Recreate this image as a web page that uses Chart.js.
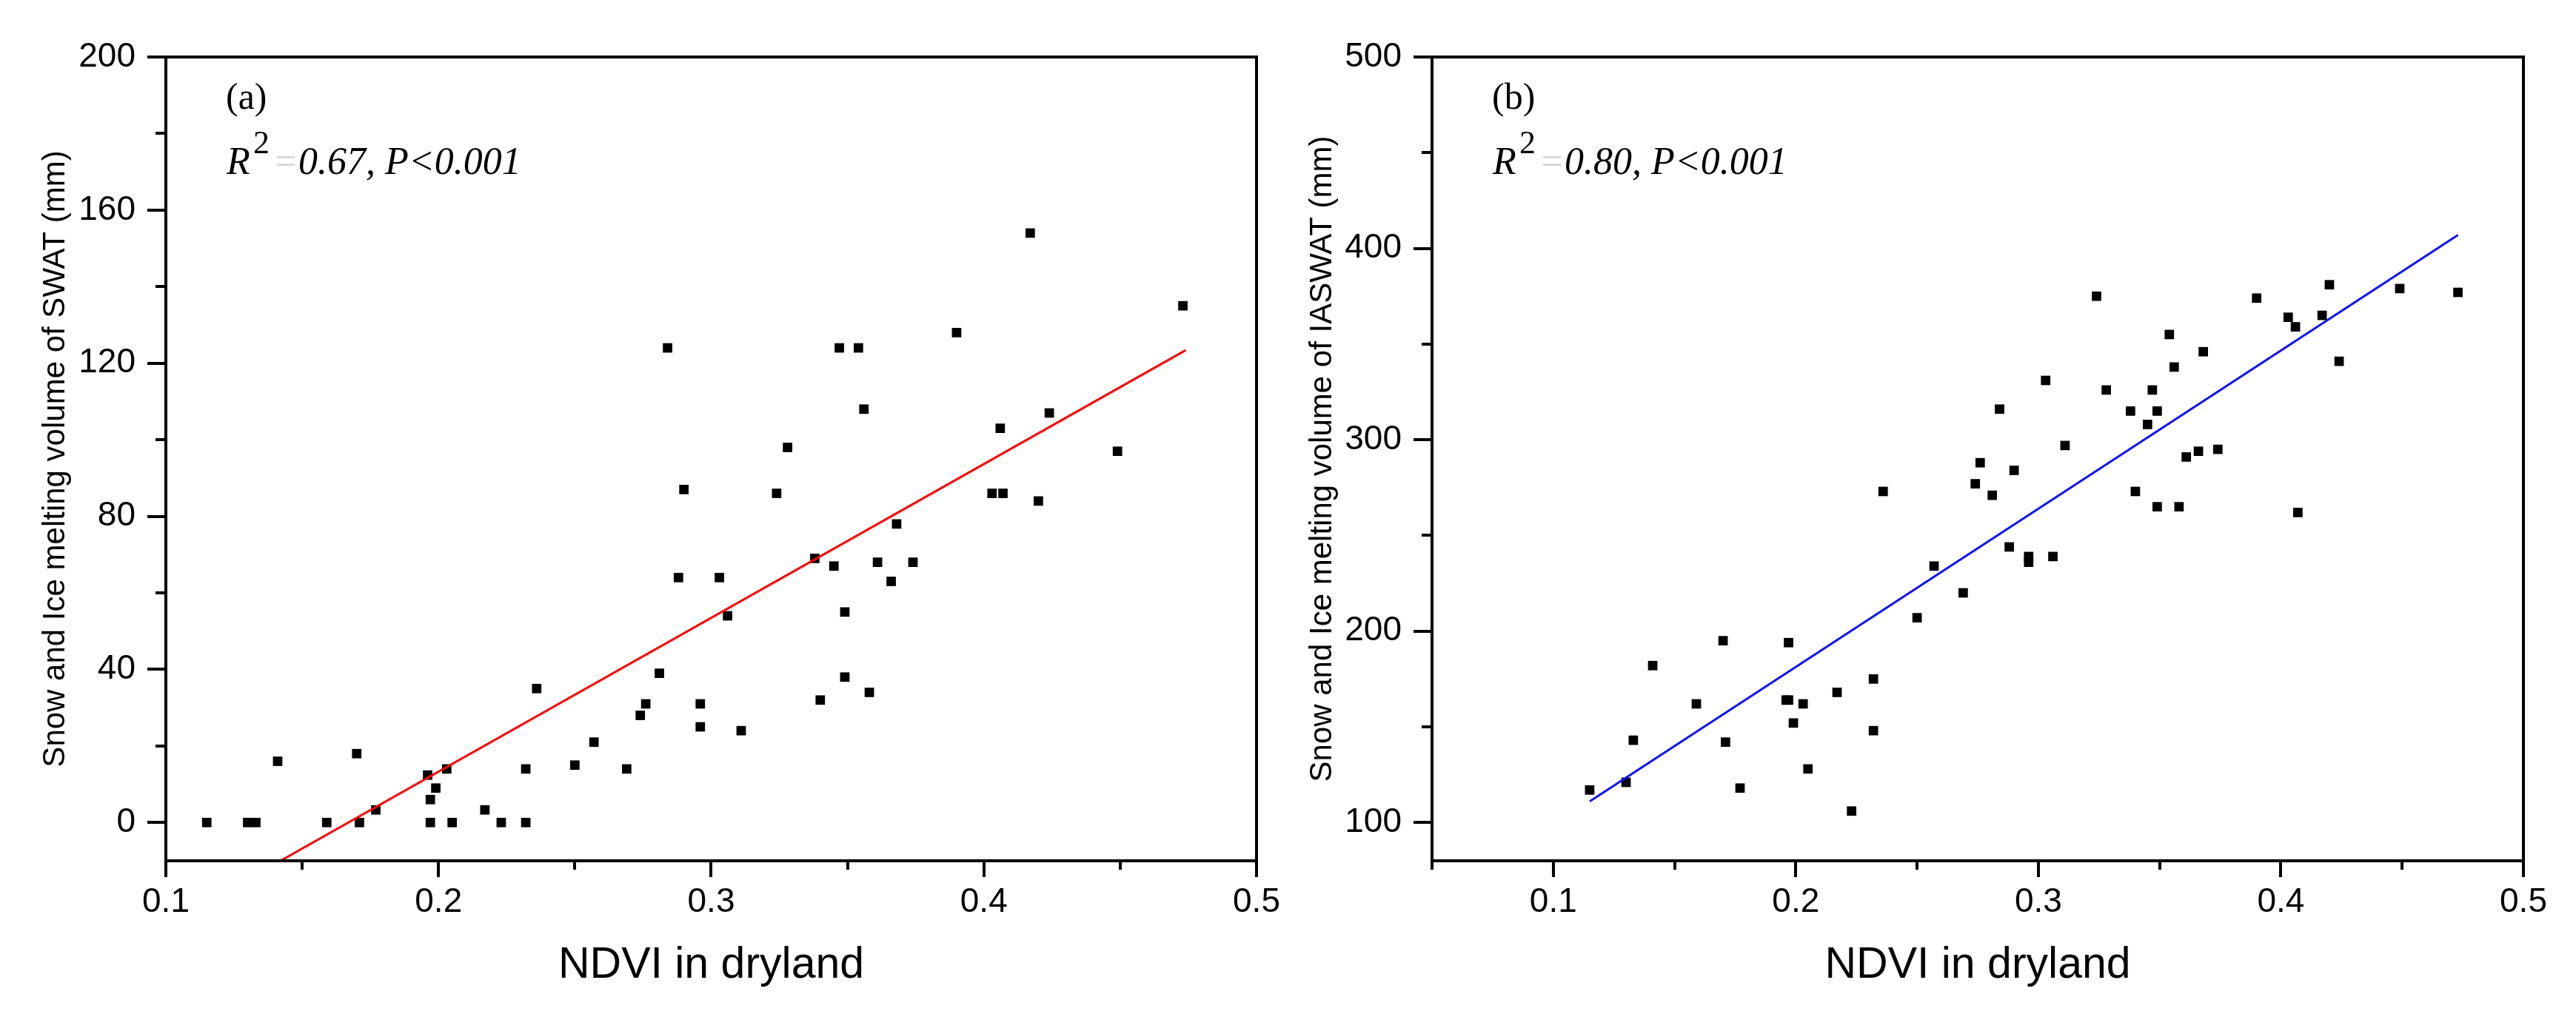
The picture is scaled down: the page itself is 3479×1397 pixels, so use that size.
<!DOCTYPE html>
<html>
<head>
<meta charset="utf-8">
<script src="https://cdn.jsdelivr.net/npm/chart.js@4.4.1/dist/chart.umd.min.js"></script>
<style>
  html, body { margin: 0; padding: 0; background: #fff; }
  #wrap { position: relative; width: 3479px; height: 1397px; }
  canvas { position: absolute; top: 0; }
  #chart-a { left: 0; }
  #chart-b { left: 1740px; }
</style>
</head>
<body>
<div id="wrap">
  <canvas id="chart-a" width="1740" height="1397"></canvas>
  <canvas id="chart-b" width="1739" height="1397"></canvas>
</div>
<script>
// NDVI in dryland, same years in both panels
const ndvi = [0.115, 0.130, 0.133, 0.141, 0.159, 0.170, 0.171, 0.177, 0.196, 0.197,
              0.197, 0.199, 0.203, 0.205, 0.217, 0.223, 0.232, 0.232, 0.236, 0.250,
              0.257, 0.269, 0.274, 0.276, 0.281, 0.284, 0.288, 0.290, 0.296, 0.296,
              0.303, 0.306, 0.311, 0.324, 0.328, 0.338, 0.340, 0.345, 0.347, 0.349,
              0.349, 0.354, 0.356, 0.358, 0.361, 0.366, 0.368, 0.374, 0.390, 0.403,
              0.406, 0.407, 0.417, 0.420, 0.424, 0.449, 0.473];

// (a) snow and ice melting volume of SWAT (mm)
const swatMelt = [0, 0, 0, 16, 0, 18, 0, 3.3, 12.4, 6,
                  0, 9, 14, 0, 3.3, 0, 14, 0, 35, 15,
                  21, 14, 28, 31, 39, 124, 64, 87, 31, 25,
                  64, 54, 24, 86, 98, 69, 32, 67, 124, 38,
                  55, 124, 108, 34, 68, 63, 78, 68, 128, 86,
                  103, 86, 154, 84, 107, 97, 135];

// (b) snow and ice melting volume of IASWAT (mm)
const iaswatMelt = [117, 121, 143, 182, 162, 195, 142, 118, 164, 164,
                    194, 152, 162, 128, 168, 106, 148, 175, 273, 207,
                    234, 220, 277, 288, 271, 316, 244, 284, 239, 236,
                    331, 239, 297, 375, 326, 315, 273, 308, 326, 265,
                    315, 355, 338, 265, 291, 294, 346, 295, 374, 364,
                    359, 262, 365, 381, 341, 379, 377];

// fitted lines (end points)
const fitAx = [0.142, 0.474];
const fitAy = [-10, 123.4];
const fitBx = [0.115, 0.473];
const fitBy = [111, 407];

// ticks
const xTicks = [0.1, 0.2, 0.3, 0.4, 0.5];
const xMinorA = [0.15, 0.25, 0.35, 0.45];
const xMinorB = [0.05, 0.15, 0.25, 0.35, 0.45];
const yTicksA = [0, 40, 80, 120, 160, 200];
const yMinorA = [20, 60, 100, 140, 180];
const yTicksB = [100, 200, 300, 400, 500];
const yMinorB = [150, 250, 350, 450];

const SANS = '"Liberation Sans", Arial, sans-serif';
const SERIF = '"Liberation Serif", "Times New Roman", serif';

// frame, minor ticks and the panel labels
const panelDecor = {
  id: 'panelDecor',
  afterDraw(chart, args, opts) {
    const { ctx, chartArea: a, scales } = chart;
    ctx.save();
    ctx.strokeStyle = '#000';
    ctx.lineWidth = 4;
    ctx.beginPath();
    opts.minorX.forEach(v => {
      const px = Math.round(scales.x.getPixelForValue(v));
      ctx.moveTo(px, a.bottom);
      ctx.lineTo(px, a.bottom + 12);
    });
    opts.minorY.forEach(v => {
      const py = Math.round(scales.y.getPixelForValue(v));
      ctx.moveTo(a.left - 14, py);
      ctx.lineTo(a.left, py);
    });
    ctx.stroke();
    ctx.strokeRect(a.left, a.top, a.right - a.left, a.bottom - a.top);

    ctx.fillStyle = '#000';
    ctx.textBaseline = 'alphabetic';
    ctx.textAlign = 'left';
    ctx.font = '50px ' + SERIF;
    ctx.fillText(opts.tag, a.left + 81, a.top + 70);

    const base = a.top + 158;
    ctx.font = 'italic 52px ' + SERIF;
    ctx.fillText('R', a.left + 82, base);
    ctx.font = '44px ' + SERIF;
    ctx.fillText('2', a.left + 118, base - 28);
    ctx.fillStyle = '#d6d6d6';
    ctx.font = 'italic 52px ' + SERIF;
    ctx.fillText('=', a.left + 144, base);
    ctx.fillStyle = '#000';
    ctx.fillText(opts.stat, a.left + 179, base);
    ctx.restore();
  }
};

function makePanel(id, cfg) {
  const points = ndvi.map((x, i) => ({ x: x, y: cfg.values[i] }));
  const fit = cfg.fitX.map((x, i) => ({ x: x, y: cfg.fitY[i] }));
  return new Chart(document.getElementById(id), {
    type: 'scatter',
    data: {
      datasets: [
        { data: points, pointStyle: 'rect', pointRadius: 9, pointHoverRadius: 9,
          pointBackgroundColor: '#000', pointBorderWidth: 0, showLine: false, order: 1 },
        { data: fit, showLine: true, borderColor: cfg.lineColor, borderWidth: 3,
          pointRadius: 0, fill: false, order: 0 }
      ]
    },
    options: {
      responsive: false,
      animation: false,
      devicePixelRatio: 1,
      layout: { padding: { left: 0, top: 77, right: cfg.padRight, bottom: 0 } },
      plugins: {
        legend: { display: false },
        tooltip: { enabled: false },
        panelDecor: { minorX: cfg.minorX, minorY: cfg.minorY, tag: cfg.tag, stat: cfg.stat }
      },
      scales: {
        x: {
          type: 'linear',
          min: cfg.xMin, max: 0.5,
          afterBuildTicks: s => { s.ticks = xTicks.map(v => ({ value: v })); },
          afterFit: s => { s.height = 1397 - 1163; },
          border: { display: false },
          grid: { drawOnChartArea: false, drawTicks: true, tickLength: 22, lineWidth: 4, color: '#000' },
          ticks: { color: '#000', padding: 7, autoSkip: false, maxRotation: 0,
                   font: { family: SANS, size: 46 }, callback: v => v.toFixed(1) },
          title: { display: true, text: 'NDVI in dryland', color: '#000', padding: 57,
                   font: { family: SANS, size: 59 } }
        },
        y: {
          type: 'linear',
          min: cfg.yMin, max: cfg.yMax,
          afterBuildTicks: s => { s.ticks = cfg.yTicks.map(v => ({ value: v })); },
          afterFit: s => { s.width = cfg.yWidth; },
          border: { display: false },
          grid: { drawOnChartArea: false, drawTicks: true, tickLength: 25, lineWidth: 4, color: '#000' },
          ticks: { color: '#000', padding: 16, autoSkip: false,
                   font: { family: SANS, size: 46 }, callback: v => String(v) },
          title: { display: true, text: cfg.yTitle, color: '#000', padding: cfg.yTitlePad,
                   font: { family: SANS, size: 42 } }
        }
      }
    },
    plugins: [panelDecor]
  });
}

makePanel('chart-a', {
  values: swatMelt, fitX: fitAx, fitY: fitAy, lineColor: '#ff0000',
  xMin: 0.1, yMin: -10, yMax: 200, yTicks: yTicksA,
  minorX: xMinorA, minorY: yMinorA,
  yWidth: 224, padRight: 43, yTitlePad: 50,
  yTitle: 'Snow and Ice melting volume of SWAT (mm)',
  tag: '(a)', stat: '0.67, P<0.001'
});

makePanel('chart-b', {
  values: iaswatMelt, fitX: fitBx, fitY: fitBy, lineColor: '#1010ff',
  xMin: 0.05, yMin: 80, yMax: 500, yTicks: yTicksB,
  minorX: xMinorB, minorY: yMinorB,
  yWidth: 194, padRight: 71, yTitlePad: 21,
  yTitle: 'Snow and Ice melting volume of IASWAT (mm)',
  tag: '(b)', stat: '0.80, P<0.001'
});
</script>
</body>
</html>
